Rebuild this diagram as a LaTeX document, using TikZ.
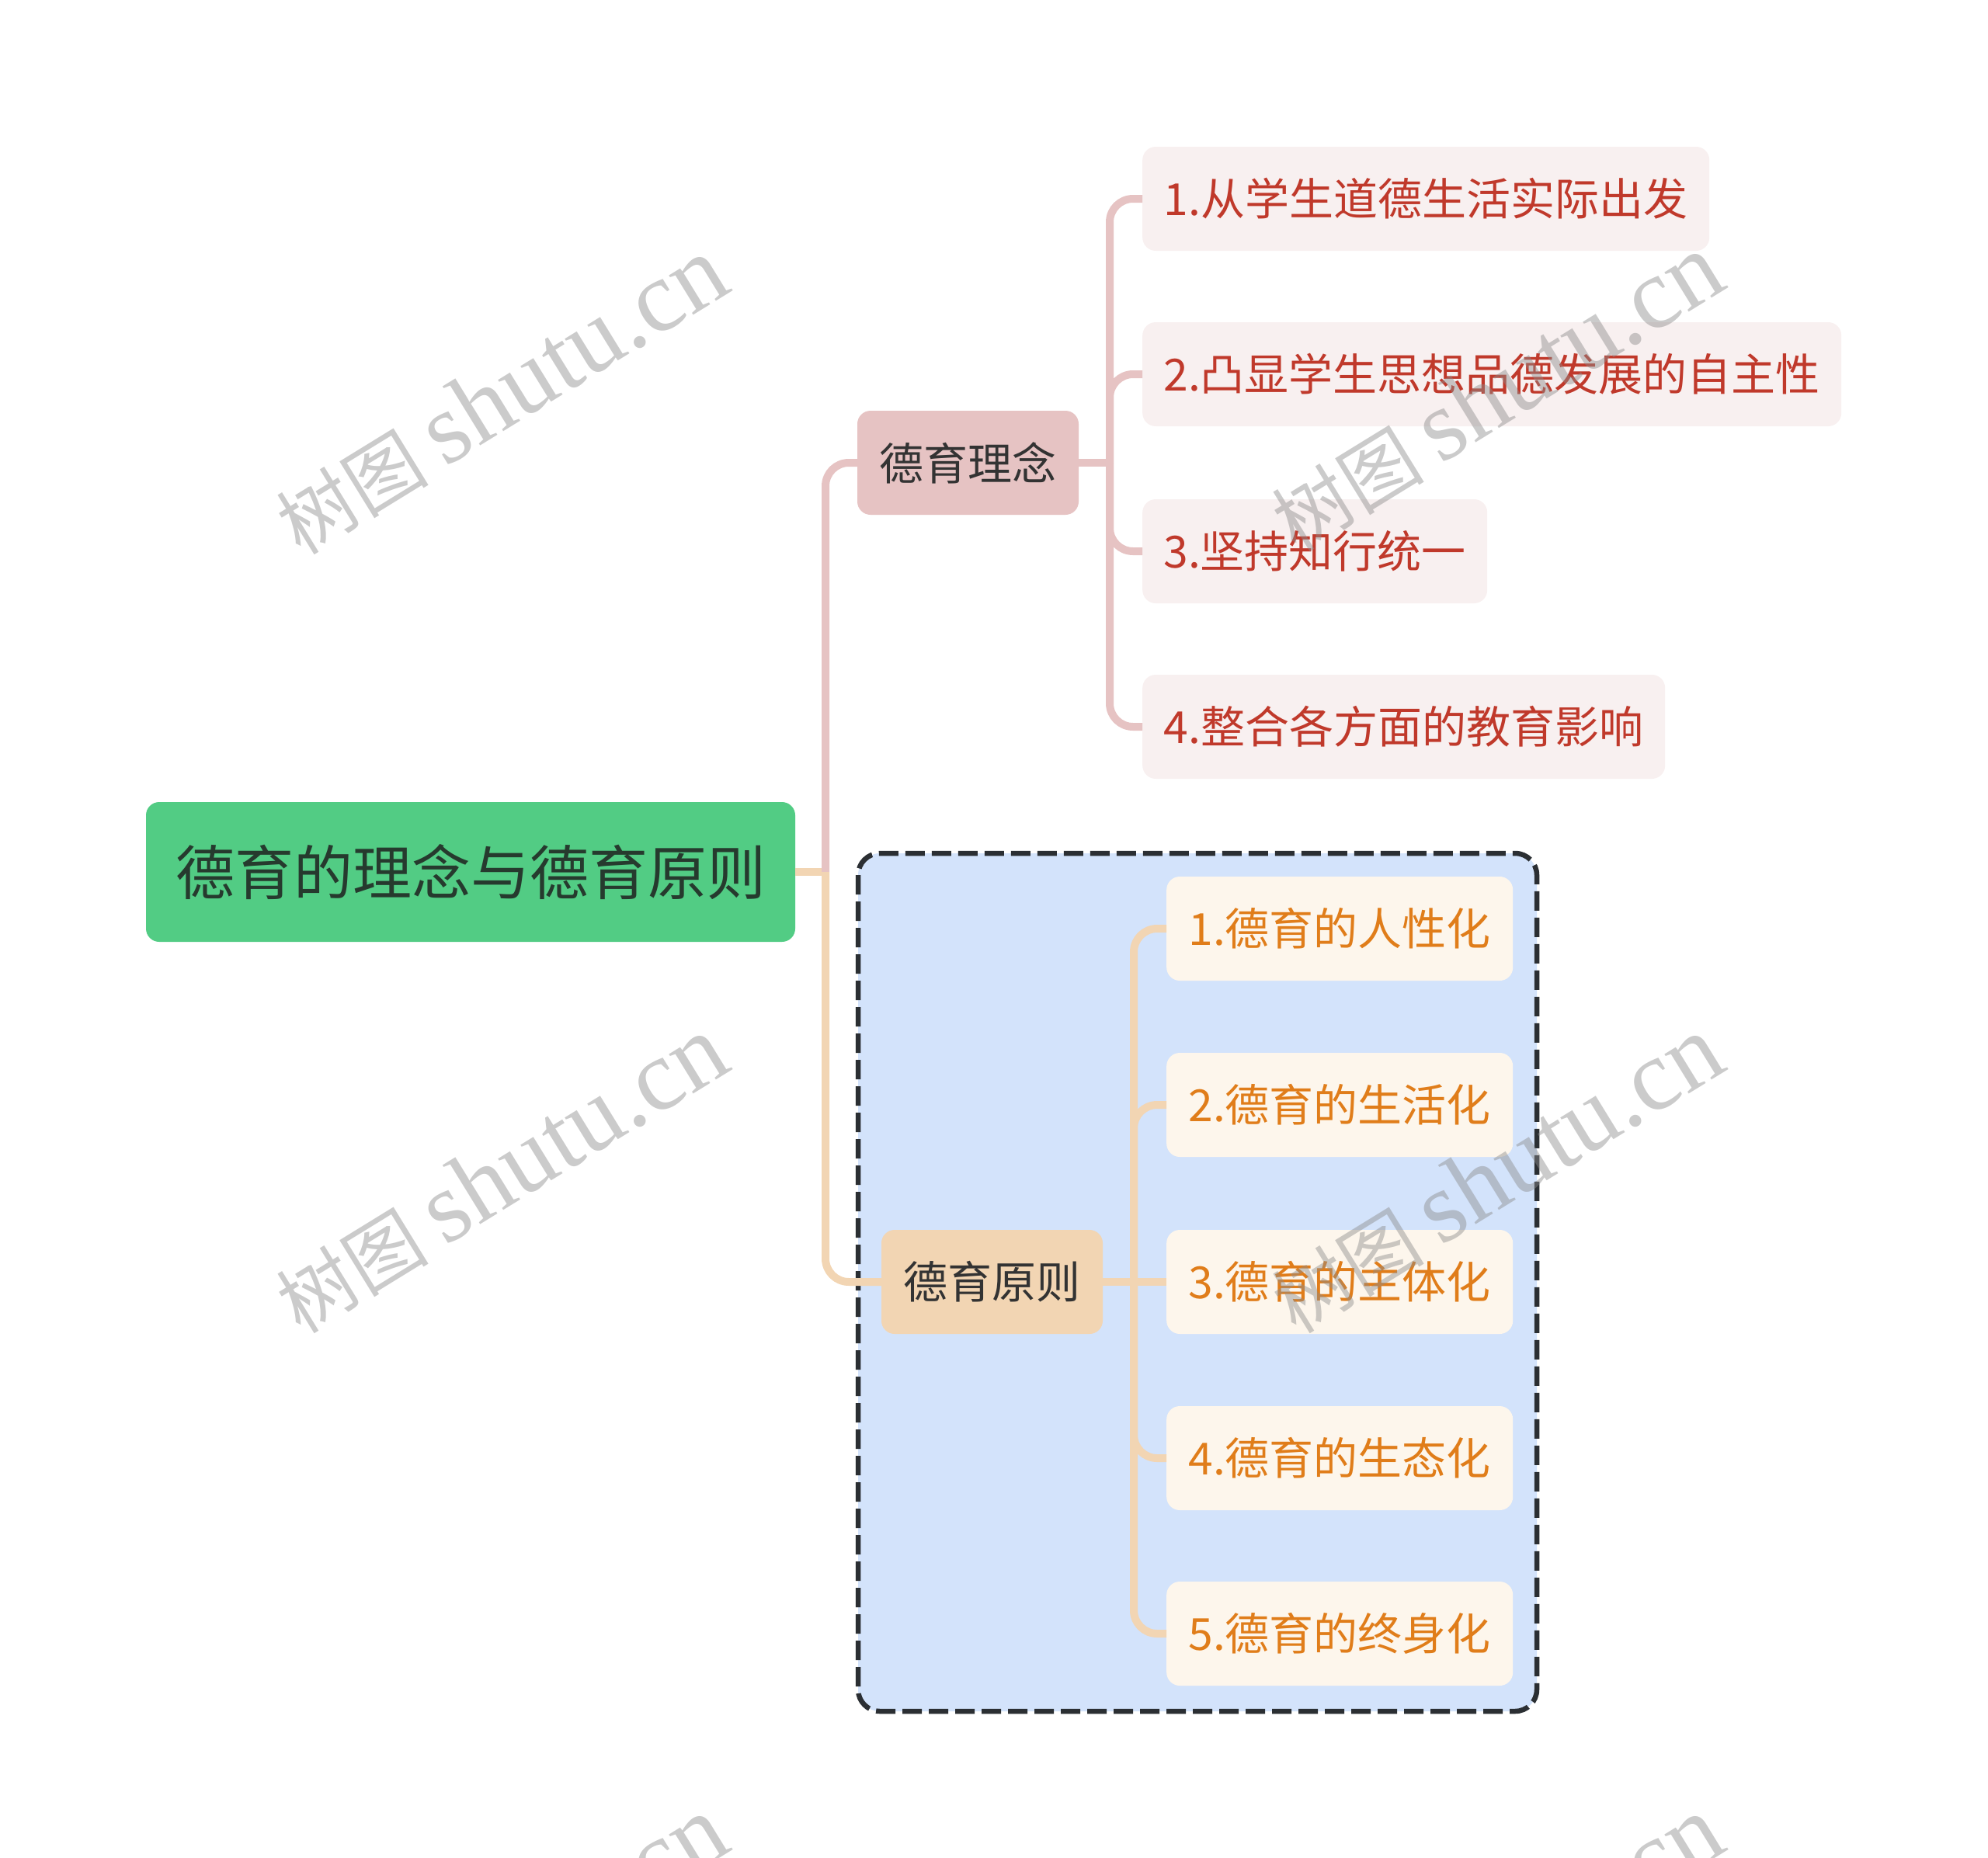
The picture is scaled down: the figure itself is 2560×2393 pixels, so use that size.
\documentclass[tikz,border=0pt]{standalone}
\usepackage{fontspec}
\newfontfamily\cjk{Noto Sans CJK SC}
\newfontfamily\wmlatin{Liberation Serif}
\usetikzlibrary{positioning}

\definecolor{rootfill}{HTML}{52CC84}
\definecolor{roottext}{HTML}{263A2E}
\definecolor{darktext}{HTML}{333333}
\definecolor{lnAfill}{HTML}{E6C3C3}
\definecolor{lnBfill}{HTML}{F2D5B3}
\definecolor{redfill}{HTML}{F8F0F0}
\definecolor{redtext}{HTML}{C0392B}
\definecolor{orgfill}{HTML}{FDF6EC}
\definecolor{orgtext}{HTML}{E07D1A}
\definecolor{groupfill}{HTML}{D3E3FB}
\definecolor{groupline}{HTML}{2B2F33}

\begin{document}
\begin{tikzpicture}[x=1pt,y=-1pt,
  box/.style={rounded corners=17pt,inner sep=0pt,minimum height=134pt,font=\cjk\fontsize{57}{70}\selectfont},
  rootbox/.style={box,fill=rootfill,text=roottext,minimum width=836pt,minimum height=180pt,font=\cjk\fontsize{76}{90}\selectfont},
  topic/.style={box,text=darktext,minimum width=285pt},
  redkid/.style={box,fill=redfill,text=redtext,anchor=west},
  orgkid/.style={box,fill=orgfill,text=orgtext,anchor=west,minimum width=446pt},
  rline/.style={draw=lnAfill,line width=10pt,rounded corners=30pt},
  oline/.style={draw=lnBfill,line width=10pt,rounded corners=30pt},
  groupframe/.style={fill=groupfill,draw=groupline,line width=6.5pt,dash pattern=on 25pt off 9pt,rounded corners=28pt},
  wm/.style={rotate=31.6,text=black!45,opacity=0.45,inner sep=0pt}
]
\clip (0,0) rectangle (2560,2393);

% frame round the principles
\draw[groupframe] (1105,1099) rectangle (1979,2204);

\node[rootbox] (root) at (606,1123) {德育的理念与德育原则};
\node[topic,fill=lnAfill] (lnA) at (1246.5,596) {德育理念};
\node[topic,fill=lnBfill] (lnB) at (1277.5,1651) {德育原则};

\node[redkid,minimum width=730pt] (ra) at (1471,256) {1.从学生道德生活实际出发};
\node[redkid,minimum width=900pt] (rb) at (1471,482) {2.凸显学生思想品德发展的自主性};
\node[redkid,minimum width=444pt] (rc) at (1471,710) {3.坚持知行统一};
\node[redkid,minimum width=673pt] (rd) at (1471,936) {4.整合各方面的教育影响};

\node[orgkid] (oa) at (1502,1196) {1.德育的人性化};
\node[orgkid] (ob) at (1502,1423) {2.德育的生活化};
\node[orgkid] (oc) at (1502,1651) {3.德育的主体化};
\node[orgkid] (od) at (1502,1878) {4.德育的生态化};
\node[orgkid] (oe) at (1502,2104) {5.德育的终身化};

% spines
\coordinate (s0) at (1063,0);
\coordinate (s1) at (1429,0);
\coordinate (s2) at (1460,0);
\coordinate (j0) at (root.east -| s0);
\coordinate (jA) at (lnA.east -| s1);
\coordinate (jB) at (lnB.east -| s2);

\draw[oline] (root.east) -- (j0);
\draw[rline] (j0) |- (lnA.west);
\draw[oline] (j0) |- (lnB.west);

\draw[rline] (lnA.east) -- (jA);
\draw[rline] (jA) |- (ra.west);
\draw[rline] (jA) |- (rb.west);
\draw[rline] (jA) |- (rc.west);
\draw[rline] (jA) |- (rd.west);

\draw[oline] (lnB.east) -- (jB);
\draw[oline] (jB) |- (oa.west);
\draw[oline] (jB) |- (ob.west);
\draw[oline] (jB) -- (oc.west);
\draw[oline] (jB) |- (od.west);
\draw[oline] (jB) |- (oe.west);

% watermarks
\node[wm] (wa) at (645,510) {\cjk\fontsize{98}{130}\selectfont 树图 \wmlatin\fontsize{130}{140}\selectfont shutu.cn};
\node[wm] (wb) at (1927,506) {\cjk\fontsize{98}{130}\selectfont 树图 \wmlatin\fontsize{130}{140}\selectfont shutu.cn};
\node[wm] (wc) at (645,1513) {\cjk\fontsize{98}{130}\selectfont 树图 \wmlatin\fontsize{130}{140}\selectfont shutu.cn};
\node[wm] (wd) at (1927,1513) {\cjk\fontsize{98}{130}\selectfont 树图 \wmlatin\fontsize{130}{140}\selectfont shutu.cn};
\node[wm] (we) at (645,2518) {\cjk\fontsize{98}{130}\selectfont 树图 \wmlatin\fontsize{130}{140}\selectfont shutu.cn};
\node[wm] (wf) at (1927,2518) {\cjk\fontsize{98}{130}\selectfont 树图 \wmlatin\fontsize{130}{140}\selectfont shutu.cn};
\end{tikzpicture}
\end{document}
